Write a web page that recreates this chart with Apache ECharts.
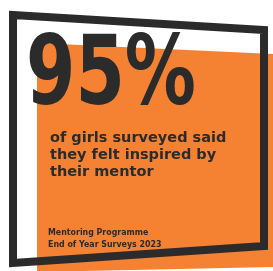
<!DOCTYPE html>
<html>
<head>
<meta charset="utf-8">
<script src="https://cdn.jsdelivr.net/npm/echarts@6/dist/echarts.min.js"></script>
<style>html,body{margin:0;padding:0;background:#fff}#c{width:273px;height:271px}</style>
</head>
<body>
<div id="c"></div>
<script>
var statValue = [95];
var statSuffix = ['%'];
var bodyLines = ['of girls surveyed said', 'they felt inspired by', 'their mentor'];
var sourceLines = ['Mentoring Programme', 'End of Year Surveys 2023'];

var ORANGE = '#F58232';
var DARK = '#2B2B2B';
var chart = echarts.init(document.getElementById('c'), null, {renderer: 'canvas'});
var graphics = [];
graphics.push({type: 'polygon', shape: {points: [[37, 43], [273, 54], [273, 267], [37, 272]]}, style: {fill: ORANGE}});
graphics.push({type: 'polygon', shape: {points: [[13, 15], [264, 30], [264, 246], [13, 263]]}, style: {fill: 'none', stroke: DARK, lineWidth: 8, lineJoin: 'miter'}});
graphics.push({type: 'text', x: 26, y: 30, scaleX: 0.71, scaleY: 0.97, style: {text: statValue[0] + statSuffix[0], font: 'bold 100px "DejaVu Sans", sans-serif', fill: DARK, verticalAlign: 'top', align: 'left'}});
bodyLines.forEach(function (t, i) {
  graphics.push({type: 'text', x: 50, y: 130.5 + i * 17.3, style: {text: t, font: 'bold 14.5px "DejaVu Sans", sans-serif', fill: DARK, verticalAlign: 'top', align: 'left'}});
});
sourceLines.forEach(function (t, i) {
  graphics.push({type: 'text', x: 48, y: 228 + i * 12, scaleX: 0.83, style: {text: t, font: 'bold 9.5px "DejaVu Sans", sans-serif', fill: DARK, verticalAlign: 'top', align: 'left'}});
});
chart.setOption({animation: false, graphic: graphics});
</script>
</body>
</html>
